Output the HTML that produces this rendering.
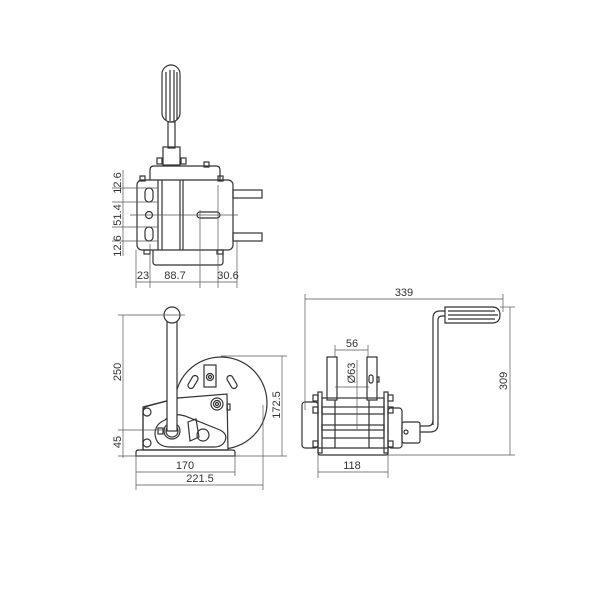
<!DOCTYPE html>
<html><head><meta charset="utf-8"><style>
html,body{margin:0;padding:0;background:#fff}
svg{display:block}
text{font-family:"Liberation Sans",sans-serif;font-size:11px;fill:#333}
</style></head><body>
<svg width="600" height="600" viewBox="0 0 600 600" xmlns="http://www.w3.org/2000/svg">
<g fill="none" stroke="#333" stroke-width="1.2">
<!-- ===== TOP VIEW ===== -->
<rect x="162" y="65" width="18" height="57" rx="9"/>
<line x1="166" y1="72" x2="166" y2="120"/><line x1="170" y1="70" x2="170" y2="121"/><line x1="174" y1="70" x2="174" y2="121"/><line x1="177" y1="72" x2="177" y2="120"/>
<rect x="168" y="122" width="7" height="26"/>
<rect x="163" y="147" width="17" height="18"/>
<rect x="157" y="158" width="5" height="6"/><rect x="181" y="158" width="5" height="6"/>
<path d="M150 180 V170 Q150 166 154 166 H216 Q220 166 220 170 V180"/>
<rect x="204" y="162" width="5" height="5"/><rect x="218" y="176" width="5" height="5"/><rect x="140" y="176" width="5" height="5"/>
<rect x="137" y="180" width="96" height="70" rx="5"/>
<line x1="158" y1="180" x2="158" y2="250"/><line x1="162" y1="180" x2="162" y2="250"/>
<line x1="180" y1="180" x2="180" y2="250"/><line x1="183" y1="180" x2="183" y2="250"/>
<path d="M153 250 V262 Q153 265 156 265 H220 Q223 265 223 262 V250"/>
<rect x="144" y="250" width="6" height="4"/><rect x="217" y="250" width="6" height="4"/>
<rect x="233" y="190" width="29" height="8"/><rect x="233" y="233" width="29" height="8"/>
<rect x="145" y="188" width="8" height="14" rx="4"/>
<circle cx="149" cy="215" r="3.5"/>
<rect x="145" y="227" width="8" height="14" rx="4"/>
<rect x="197" y="212" width="23" height="6" rx="3"/>
</g>
<g fill="none" stroke="#555" stroke-width="0.7">
<line x1="112" y1="188" x2="158" y2="188"/><line x1="112" y1="202" x2="158" y2="202"/>
<line x1="112" y1="227" x2="158" y2="227"/><line x1="112" y1="241" x2="158" y2="241"/>
<line x1="130" y1="215" x2="238" y2="215"/>
<line x1="123" y1="170" x2="123" y2="256"/>
<line x1="136" y1="250" x2="136" y2="288"/><line x1="150" y1="244" x2="150" y2="288"/>
<line x1="200" y1="210" x2="200" y2="288"/><line x1="218" y1="185" x2="218" y2="288"/><line x1="237" y1="240" x2="237" y2="288"/>
<line x1="136" y1="282" x2="237" y2="282"/>
</g>
<text transform="translate(121,183) rotate(-90)" text-anchor="middle">12.6</text>
<text transform="translate(121,215) rotate(-90)" text-anchor="middle">51.4</text>
<text transform="translate(121,246) rotate(-90)" text-anchor="middle">12.6</text>
<text x="143" y="279" text-anchor="middle">23</text>
<text x="175" y="279" text-anchor="middle">88.7</text>
<text x="228" y="279" text-anchor="middle">30.6</text>

<!-- ===== SIDE VIEW ===== -->
<g fill="none" stroke="#333" stroke-width="1.2">
<circle cx="221" cy="403" r="46" fill="#fff"/>
<path d="M143 407 L178 398 L227 394 L228 450 L143 450 Z" fill="#fff"/>
<path d="M143 450 V412 Q143 407 148 406 L178 398"/>
<rect x="204" y="365" width="12" height="22"/>
<circle cx="210" cy="377" r="3.5"/><circle cx="210" cy="377" r="1.5"/>
<rect x="190" y="375" width="6" height="14" rx="3" transform="rotate(30 193 382)"/>
<rect x="229" y="375" width="6" height="14" rx="3" transform="rotate(-30 232 382)"/>
<circle cx="217" cy="404" r="6"/><circle cx="217" cy="404" r="3.5"/><circle cx="217" cy="404" r="1.5"/>
<rect x="227" y="404" width="3" height="6"/>
<circle cx="147" cy="412" r="4"/><circle cx="147" cy="443" r="4"/>
<path d="M165 420 Q172 412 185 416 L220 430 Q228 434 225 441 Q222 447 214 447 H170 Q156 447 155 434 Q155 424 165 420 Z"/>
<circle cx="172" cy="431" r="8"/><circle cx="172" cy="431" r="6"/>
<rect x="158" y="428" width="5" height="6"/>
<path d="M188 422 L196 419 L199 437 L190 441 Z"/>
<circle cx="203" cy="435" r="6"/>
<rect x="167" y="320" width="10" height="111" fill="#fff"/>
<circle cx="172" cy="315" r="8" fill="#fff"/>
<path d="M136 456 V452 Q136 450 139 450 H232 Q235 450 235 452 V456 Z"/>
</g>
<g fill="none" stroke="#555" stroke-width="0.7">
<line x1="118" y1="315" x2="185" y2="315"/>
<line x1="123" y1="315" x2="123" y2="458"/>
<line x1="118" y1="430" x2="165" y2="430"/>
<line x1="118" y1="456" x2="287" y2="456"/>
<line x1="221" y1="356" x2="287" y2="356"/>
<line x1="282" y1="356" x2="282" y2="456"/>
<line x1="136" y1="456" x2="136" y2="490"/><line x1="235" y1="456" x2="235" y2="476"/><line x1="263" y1="405" x2="263" y2="490"/>
<line x1="136" y1="472" x2="235" y2="472"/>
<line x1="136" y1="485" x2="263" y2="485"/>
</g>
<text transform="translate(121,372) rotate(-90)" text-anchor="middle">250</text>
<text transform="translate(121,442) rotate(-90)" text-anchor="middle">45</text>
<text transform="translate(280,405) rotate(-90)" text-anchor="middle">172.5</text>
<text x="185" y="469" text-anchor="middle">170</text>
<text x="200" y="482" text-anchor="middle">221.5</text>

<!-- ===== FRONT VIEW ===== -->
<g fill="none" stroke="#333" stroke-width="1.2">
<path d="M433 425 V318 Q433 311 440 311 H447 M438 425 V320 Q438 316 442 316 H447"/>
<path d="M445 307 H492 Q500 307 500 315 Q500 323 492 323 H445 Z" fill="#fff"/>
<line x1="448" y1="311" x2="495" y2="311"/><line x1="448" y1="315" x2="498" y2="315"/><line x1="448" y1="319" x2="495" y2="319"/>
<path d="M420 426 H428 Q433 426 433 420 M420 432 H430 Q438 432 438 424"/>
<rect x="402" y="422" width="18" height="21" rx="2" fill="#fff"/>
<circle cx="406" cy="432" r="2"/>
<rect x="302" y="402" width="16" height="46" rx="3"/>
<rect x="388" y="408" width="14" height="40" rx="3"/>
<rect x="327" y="357" width="10" height="43"/>
<rect x="367" y="357" width="10" height="43"/>
<rect x="369" y="375" width="4" height="8" rx="2"/>
<rect x="377" y="377" width="2" height="5"/>
<rect x="318" y="392" width="4" height="61"/>
<rect x="384" y="392" width="4" height="61"/>
<rect x="322" y="398" width="62" height="32"/>
<rect x="322" y="407" width="62" height="7"/>
<rect x="322" y="425" width="62" height="13"/>
<line x1="335" y1="400" x2="335" y2="448"/><line x1="369" y1="400" x2="369" y2="448"/>
<rect x="313" y="395" width="5" height="6"/><rect x="388" y="395" width="5" height="6"/>
<rect x="313" y="407" width="5" height="6"/><rect x="388" y="407" width="5" height="6"/>
<rect x="313" y="441" width="5" height="6"/><rect x="388" y="441" width="5" height="6"/>
<path d="M318 448 H388 V453 Q388 455 386 455 H320 Q318 455 318 453 Z"/>
</g>
<g fill="none" stroke="#555" stroke-width="0.7">
<line x1="305" y1="294" x2="305" y2="410"/>
<line x1="503" y1="294" x2="503" y2="312"/>
<line x1="305" y1="299" x2="503" y2="299"/>
<line x1="500" y1="307" x2="515" y2="307"/>
<line x1="388" y1="455" x2="515" y2="455"/>
<line x1="510" y1="307" x2="510" y2="455"/>
<line x1="335" y1="345" x2="335" y2="357"/><line x1="368" y1="345" x2="368" y2="357"/>
<line x1="335" y1="350" x2="368" y2="350"/>
<line x1="357" y1="360" x2="357" y2="430"/>
<line x1="335" y1="387" x2="369" y2="387"/>
<line x1="318" y1="455" x2="318" y2="478"/><line x1="388" y1="455" x2="388" y2="478"/>
<line x1="318" y1="472" x2="388" y2="472"/>
</g>
<text x="404" y="296" text-anchor="middle">339</text>
<text transform="translate(507,381) rotate(-90)" text-anchor="middle">309</text>
<text x="352" y="347" text-anchor="middle">56</text>
<text transform="translate(355,373) rotate(-90)" text-anchor="middle">Ø63</text>
<text x="352" y="469" text-anchor="middle">118</text>
</svg>
</body></html>
